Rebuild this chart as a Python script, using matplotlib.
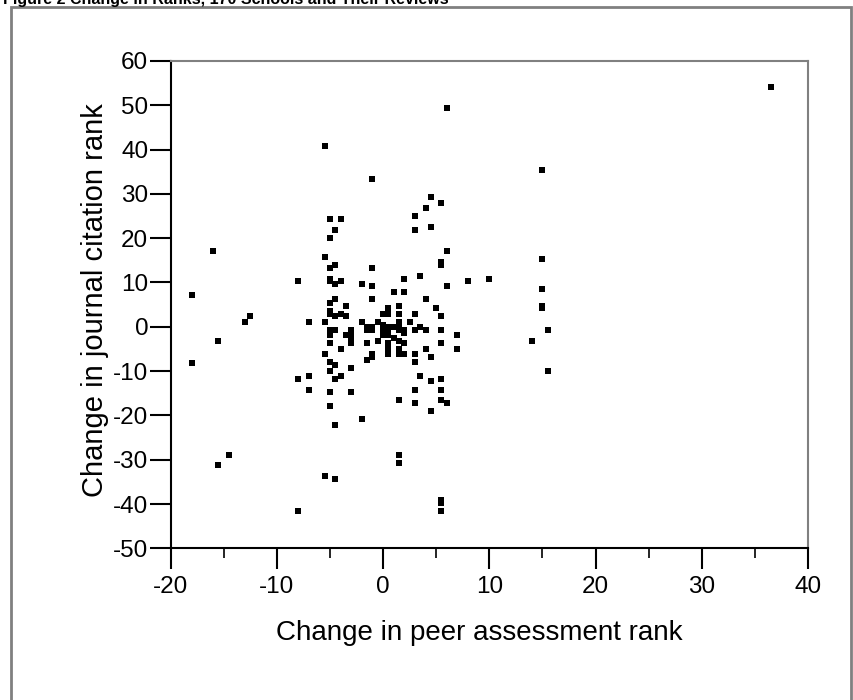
import matplotlib
matplotlib.use("Agg")
import matplotlib.pyplot as plt
from matplotlib.patches import Rectangle
from matplotlib.ticker import MultipleLocator

plt.rcParams["font.family"] = ["Liberation Sans", "DejaVu Sans"]
plt.rcParams["axes.unicode_minus"] = False

title = "Figure 2 Change in Ranks, 170 Schools and Their Reviews"
x_label = "Change in peer assessment rank"
y_label = "Change in journal citation rank"

# change in peer assessment rank (x) and journal citation rank (y)
peer_change = [
    -5.5, -1, -5, -4, -4.5, -5, -16, -5.5, -4.5, -5, -1, -8, -5, -5, -4.5, -4, -2, -1,
    -18, -4.5, -1, -5, -3.5, -12.5, -13, -5, -5, -4.5, -4, -3.5, -7, -5.5, -2, -0.5,
    -5, -4.5, -5, -5, -3, -3, -3.5, -3, -1.5, -1, -1.5, -1, -15.5, -5, -3, -3, -1.5,
    -0.5, -4, -18, -5.5, -5, -4.5, -5, -3, -1.5, -1, -1, -8, -7, -7, -4.5, -4, -5, -3,
    -5, -2, -4.5, -14.5, -15.5, -5.5, -4.5, -8,
    6, 15, 4.5, 5.5, 4, 3, 3, 4.5, 6, 5.5, 5.5, 15, 2, 3.5, 8, 10, 1, 2, 6, 15, 4,
    15, 15, 1.5, 5, 0.5, 0, 0.5, 1.5, 3, 5.5, 2.5, 0, 0.5, 1, 1.5, 1.5, 0, 0.5, 1.5,
    2, 2, 3, 3.5, 4, 5.5, 15.5, 7, 0, 0.5, 1, 1.5, 2, 5.5, 14, 7, 0.5, 0.5, 0.5, 1.5,
    1.5, 2, 3, 3, 4, 4.5, 15.5, 3.5, 4.5, 5.5, 3, 5.5, 1.5, 3, 5.5, 6, 4.5, 1.5, 1.5,
    5.5, 5.5, 5.5, 36.5,
]
citation_change = [
    40.8, 33.4, 24.3, 24.3, 21.9, 20.0, 17.0, 15.8, 14.0, 13.3, 13.3, 10.3, 10.9, 10.3,
    9.7, 10.3, 9.7, 9.1, 7.2, 6.2, 6.2, 5.4, 4.8, 2.4, 1.1, 3.6, 3.0, 2.4, 3.0, 2.4,
    1.1, 1.1, 1.1, 1.1, -0.7, -0.7, -1.3, -1.9, -0.7, -1.3, -1.9, -1.9, 0, 0, -0.7,
    -0.7, -3.2, -3.7, -3.2, -3.7, -3.7, -3.2, -5.0, -8.1, -6.2, -8.0, -8.7, -9.9, -9.3,
    -7.5, -6.2, -6.9, -11.8, -11.2, -14.2, -11.8, -11.2, -14.8, -14.8, -17.9, -20.9,
    -22.2, -28.9, -31.3, -33.7, -34.4, -41.6,
    49.4, 35.3, 29.2, 27.9, 26.8, 24.9, 21.9, 22.5, 17.0, 14.6, 14.0, 15.2, 10.9, 11.5,
    10.3, 10.9, 7.9, 7.9, 9.1, 8.5, 6.2, 4.8, 4.2, 4.8, 4.2, 4.2, 3.0, 3.0, 3.0, 3.0,
    2.4, 1.1, 0.5, -0.1, -0.1, 1.1, 0.5, -0.7, -0.7, -0.7, -0.7, -1.3, -0.7, -0.1,
    -0.7, -0.7, -0.7, -1.9, -1.9, -1.9, -2.5, -3.1, -3.7, -3.7, -3.1, -5.0, -3.7, -5.0,
    -6.2, -5.0, -6.2, -6.2, -6.2, -8.0, -5.0, -6.8, -9.9, -11.1, -12.3, -11.8, -14.2,
    -14.2, -16.6, -17.2, -16.6, -17.2, -19.1, -28.9, -30.7, -39.2, -39.8, -41.6, 54.2,
]

x_ticks = [-20, -10, 0, 10, 20, 30, 40]
y_ticks = [-50, -40, -30, -20, -10, 0, 10, 20, 30, 40, 50, 60]

fig = plt.figure(figsize=(8.54, 7), dpi=100)
ax = fig.add_axes([0.1997, 0.2167, 0.7465, 0.6962])

ax.scatter(peer_change, citation_change, marker="s", s=14, c="black",
           linewidths=0, clip_on=False)

ax.set_xlim(-20, 40)
ax.set_ylim(-50, 60)
ax.set_xticks(x_ticks)
ax.set_yticks(y_ticks)
ax.xaxis.set_minor_locator(MultipleLocator(5))
ax.tick_params(axis="both", which="major", direction="out", length=15, width=1.5,
               labelsize=17.5)
ax.tick_params(axis="x", which="major", pad=5)
ax.tick_params(axis="y", which="major", pad=1)
ax.tick_params(axis="x", which="minor", direction="out", length=7, width=1.2)
ax.tick_params(axis="y", which="minor", length=0)

for side in ["left", "bottom"]:
    ax.spines[side].set_color("black")
    ax.spines[side].set_linewidth(1.5)
for side in ["top", "right"]:
    ax.spines[side].set_color("#808080")
    ax.spines[side].set_linewidth(1.5)

ax.set_xlabel(x_label, fontsize=20)
ax.set_ylabel(y_label, fontsize=21)
ax.xaxis.set_label_coords(0.485, -0.147)
ax.yaxis.set_label_coords(-0.097, 0.51)

# outer frame and clipped title
fig.patches.append(Rectangle((11 / 854, -0.05), 840 / 854, 1.05 - 7 / 700,
                             transform=fig.transFigure, fill=False,
                             edgecolor="#808080", linewidth=2))
fig.text(0.003, 1 - 4 / 700, title, fontsize=11.5, fontweight="bold",
         va="baseline", ha="left")

fig.savefig("out.png", dpi=100)
